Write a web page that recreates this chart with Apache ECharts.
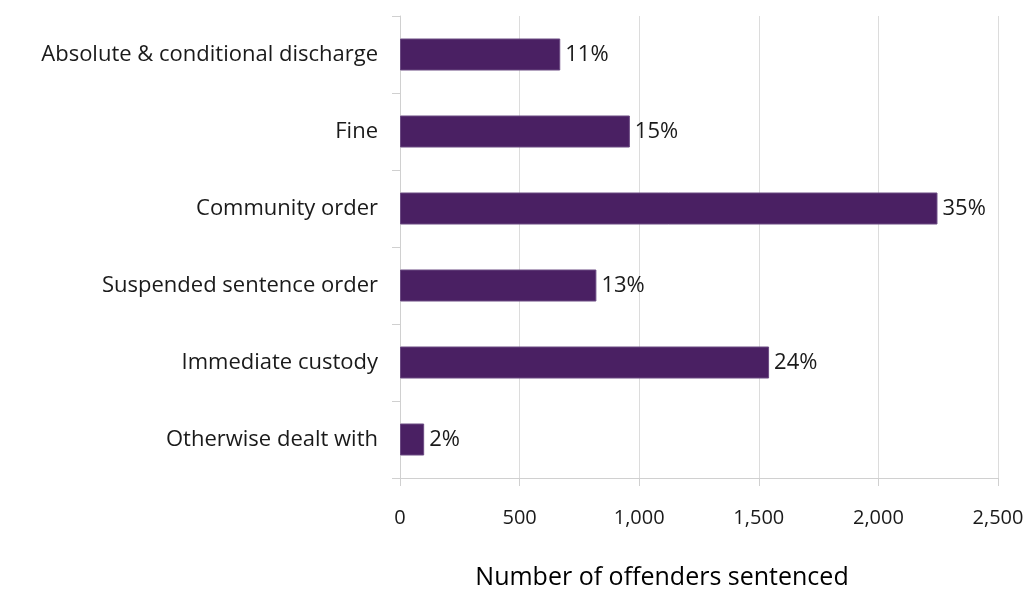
<!DOCTYPE html>
<html>
<head>
<meta charset="utf-8">
<script src="https://cdn.jsdelivr.net/npm/echarts@6/dist/echarts.min.js"></script>
<style>
  html, body { margin: 0; padding: 0; background: #ffffff; }
  #chart { width: 1034px; height: 589px; }
</style>
</head>
<body>
<div id="chart"></div>
<script>
// Sentence outcomes: number of offenders and share of total
const categories = [
  'Absolute & conditional discharge',
  'Fine',
  'Community order',
  'Suspended sentence order',
  'Immediate custody',
  'Otherwise dealt with'
];
const offenders = [670, 961, 2247, 821, 1543, 101];
const shares = ['11%', '15%', '35%', '13%', '24%', '2%'];
const xTicks = { min: 0, max: 2500, interval: 500 };
const axisTitle = 'Number of offenders sentenced';

const FONT = '"Open Sans", Lato, sans-serif';
const chart = echarts.init(document.getElementById('chart'), null, { renderer: 'canvas' });

chart.setOption({
  animation: false,
  backgroundColor: '#ffffff',
  grid: { left: 400, right: 36, top: 16, bottom: 111, containLabel: false },
  xAxis: {
    type: 'value',
    min: xTicks.min,
    max: xTicks.max,
    interval: xTicks.interval,
    axisLine: { show: true, lineStyle: { color: '#d0d0d0', width: 1 } },
    axisTick: { show: true, length: 8, lineStyle: { color: '#d0d0d0' } },
    splitLine: { show: true, lineStyle: { color: '#dcdcdc', width: 1 } },
    axisLabel: {
      color: '#1a1a1a',
      fontFamily: FONT,
      fontSize: 20,
      margin: 30,
      formatter: v => v.toLocaleString('en-GB')
    }
  },
  yAxis: {
    type: 'category',
    data: categories,
    inverse: true,
    axisLine: { show: true, lineStyle: { color: '#d0d0d0', width: 1 } },
    axisTick: { show: true, length: 8, lineStyle: { color: '#d0d0d0' } },
    axisLabel: {
      color: '#1a1a1a',
      fontFamily: FONT,
      fontSize: 22,
      margin: 22
    }
  },
  series: [{
    type: 'bar',
    data: offenders,
    barWidth: 32,
    itemStyle: { color: '#4a2063', borderColor: '#6b4a82', borderWidth: 1 },
    label: {
      show: true,
      position: 'right',
      distance: 5,
      color: '#1a1a1a',
      fontFamily: FONT,
      fontSize: 22,
      formatter: p => shares[p.dataIndex]
    }
  }],
  graphic: [{
    type: 'text',
    x: 662,
    y: 578,
    style: {
      text: axisTitle,
      fill: '#000000',
      font: '25px ' + FONT,
      align: 'center',
      verticalAlign: 'middle'
    }
  }]
});
</script>
</body>
</html>
